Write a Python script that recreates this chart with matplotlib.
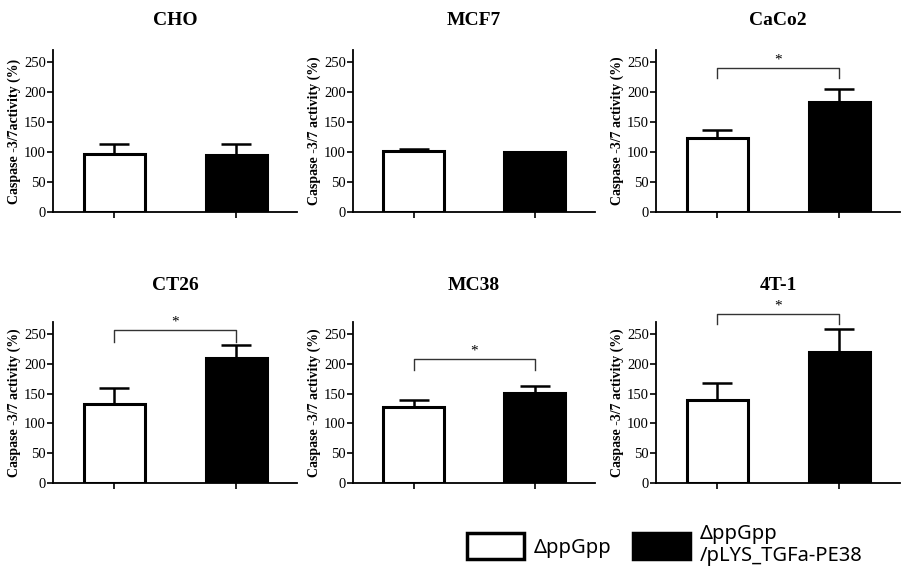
import numpy as np
import matplotlib
matplotlib.use('Agg')
import matplotlib.pyplot as plt
from matplotlib.patches import Patch

# dane
cells = ['CHO', 'MCF7', 'CaCo2', 'CT26', 'MC38', '4T-1']
white_mean = [97, 102, 124, 133, 128, 140]
white_err = [16, 3, 13, 27, 12, 28]
black_mean = [95, 99.5, 184, 209, 151, 220]
black_err = [18, 1, 21, 22, 11, 38]
# wysokosc klamry istotnosci (None = brak)
bracket_top = [None, None, 240, 256, 208, 283]
bracket_end = [None, None, 223, 236, 190, 266]
ylabels = ['Caspase -3/7activity (%)'] + ['Caspase -3/7 activity (%)'] * 5
legend_labels = ['\u0394ppGpp', '\u0394ppGpp\n/pLYS_TGFa-PE38']

plt.rcParams['font.family'] = ['Liberation Serif', 'DejaVu Serif']

fig = plt.figure(figsize=(9.18, 5.86), dpi=100)
W, H = 918, 586
lefts = [53, 353, 656]
widths = [244, 242, 244]
bottoms = [212, 483]
tops = [50, 322]
title_pad = [18, 23]

for i, name in enumerate(cells):
    r, c = divmod(i, 3)
    ax = fig.add_axes([lefts[c] / W, 1 - bottoms[r] / H, widths[c] / W, (bottoms[r] - tops[r]) / H])
    x = [0, 1]
    ax.errorbar(x, [white_mean[i], black_mean[i]], yerr=[[0, 0], [white_err[i], black_err[i]]],
                fmt='none', ecolor='black', elinewidth=1.8, capsize=11, capthick=1.8, zorder=1)
    ax.bar(x, [white_mean[i], black_mean[i]], width=0.5, color=['white', 'black'],
           edgecolor='black', linewidth=2.2, zorder=2)
    ax.set_xlim(-0.5, 1.5)
    ax.set_ylim(0, 270)
    ax.set_yticks([0, 50, 100, 150, 200, 250])
    ax.set_xticks(x)
    ax.set_xticklabels(['', ''])
    ax.tick_params(axis='y', labelsize=10.5, length=4, width=1.2, pad=1)
    ax.tick_params(axis='x', length=4, width=1.2)
    for s in ['top', 'right']:
        ax.spines[s].set_visible(False)
    for s in ['left', 'bottom']:
        ax.spines[s].set_linewidth(1.3)
    ax.set_ylabel(ylabels[i], fontsize=10, fontweight='bold', labelpad=2)
    ax.set_title(name, fontsize=14, fontweight='bold', pad=title_pad[r])
    if bracket_top[i] is not None:
        ax.plot([0, 0, 1, 1], [bracket_end[i], bracket_top[i], bracket_top[i], bracket_end[i]],
                color='#333333', lw=1, clip_on=False)
        ax.text(0.5, bracket_top[i] + 3, '*', ha='center', va='bottom', fontsize=11)

handles = [Patch(facecolor='white', edgecolor='black', linewidth=2.5),
           Patch(facecolor='black', edgecolor='black', linewidth=2.5)]
fig.legend(handles, legend_labels, loc='center left', bbox_to_anchor=(449 / W, 1 - 545 / H),
           ncol=2, frameon=False, handlelength=2.8, handleheight=1.6, handletextpad=0.5,
           columnspacing=1.1, prop={'family': ['Noto Sans', 'DejaVu Sans'], 'size': 14.5})

fig.savefig('out.png', dpi=100)
